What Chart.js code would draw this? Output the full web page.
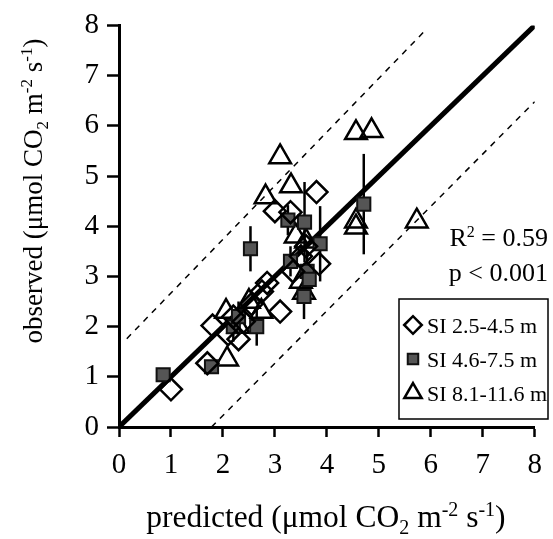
<!DOCTYPE html>
<html>
<head>
<meta charset="utf-8">
<script src="https://cdn.jsdelivr.net/npm/chart.js@4.4.1/dist/chart.umd.min.js"></script>
<style>
  html, body { margin: 0; padding: 0; background: #fff; }
  #wrap { width: 553px; height: 539px; }
</style>
</head>
<body>
<div id="wrap"><canvas id="chart" width="553" height="539"></canvas></div>
<script>
// SI 2.5-4.5 m (diamonds)
const diaX = [1.0, 1.7, 1.8, 2.1, 2.3, 2.4, 2.2, 2.85, 2.75, 3.1, 3.0, 3.35, 3.5, 3.85, 3.8, 3.3, 3.6, 2.55];
const diaY = [0.75, 1.27, 2.02, 1.85, 1.75, 2.1, 2.2, 2.87, 2.7, 2.3, 4.3, 3.1, 3.4, 3.25, 4.68, 4.28, 3.6, 2.45];

// SI 4.6-7.5 m (squares, with error bars)
const sqX   = [0.85, 1.78, 2.2, 2.3, 2.53, 2.65, 3.25, 3.57, 3.62, 3.56, 3.66, 3.87, 4.71, 3.3];
const sqY   = [1.04, 1.2, 2.0, 2.2, 3.55, 2.0, 4.12, 4.08, 3.1, 2.6, 2.94, 3.65, 4.44, 3.3];
const sqErr = [0.08, 0.12, 0.3, 0.3, 0.45, 0.38, 0.3, 0.8, 0.4, 0.45, 0.3, 0.75, 1.0, 0.3];

// SI 8.1-11.6 m (triangles)
const triX = [2.08, 2.06, 2.74, 2.82, 3.1, 3.31, 3.5, 3.56, 4.56, 4.56, 5.73, 4.56, 4.86, 3.4, 3.6, 2.5, 2.3];
const triY = [1.35, 2.3, 2.3, 4.58, 5.38, 4.8, 2.9, 2.68, 4.1, 3.98, 4.1, 5.86, 5.9, 3.8, 3.7, 2.5, 2.0];

// 1:1 line and the two dashed bounds
const fitX = [0, 8];
const fitY = [0, 8];
const upperX = [0.15, 5.93];
const upperY = [1.76, 7.94];
const lowerX = [1.78, 8];
const lowerY = [0, 6.48];

const axisTicks = [0, 1, 2, 3, 4, 5, 6, 7, 8];
const legendLabels = ["SI 2.5-4.5 m", "SI 4.6-7.5 m", "SI 8.1-11.6 m"];

const SERIF = "'Liberation Serif', 'Times New Roman', serif";

function pts(xs, ys) {
  return xs.map((x, i) => ({ x: x, y: ys[i] }));
}

// draws a run of text pieces with sub/superscripts at (x, baseline)
function richText(ctx, parts, x0, base, size, align) {
  const small = Math.round(size * 0.62);
  let total = 0;
  parts.forEach(p => {
    ctx.font = (p.sub || p.sup ? small : size) + "px " + SERIF;
    p.w = ctx.measureText(p.t).width;
    total += p.w;
  });
  let x = x0 - total / 2;
  if (align === "right") x = x0 - total;
  if (align === "left") x = x0;
  ctx.textBaseline = "alphabetic";
  ctx.textAlign = "left";
  parts.forEach(p => {
    ctx.font = (p.sub || p.sup ? small : size) + "px " + SERIF;
    let dy = 0;
    if (p.sub) dy = size * 0.22;
    if (p.sup) dy = -size * 0.36;
    ctx.fillText(p.t, x, base + dy);
    x += p.w;
  });
}

const unitParts = [
  { t: " (\u03bcmol CO" }, { t: "2", sub: true }, { t: " m" }, { t: "-2", sup: true },
  { t: " s" }, { t: "-1", sup: true }, { t: ")" }
];

const errorBars = {
  id: "errorBars",
  beforeDatasetsDraw(chart) {
    const ctx = chart.ctx;
    const xs = chart.scales.x, ys = chart.scales.y;
    ctx.save();
    ctx.strokeStyle = "#000";
    ctx.lineWidth = 2.5;
    sqX.forEach((x, i) => {
      const px = xs.getPixelForValue(x);
      ctx.beginPath();
      ctx.moveTo(px, ys.getPixelForValue(sqY[i] - sqErr[i]));
      ctx.lineTo(px, ys.getPixelForValue(sqY[i] + sqErr[i]));
      ctx.stroke();
    });
    ctx.restore();
  }
};

const annotations = {
  id: "annotations",
  afterDraw(chart) {
    const ctx = chart.ctx;
    const area = chart.chartArea;
    ctx.save();
    ctx.fillStyle = "#000";

    // axis titles
    richText(ctx, [{ t: "predicted" }].concat(unitParts), (area.left + area.right) / 2 - 1, 527, 31.5);
    ctx.save();
    ctx.translate(42, 191);
    ctx.rotate(-Math.PI / 2);
    richText(ctx, [{ t: "observed" }].concat(unitParts), 0, 0, 27);
    ctx.restore();

    // statistics
    richText(ctx, [{ t: "R" }, { t: "2", sup: true }, { t: " = 0.59" }], 548, 246, 26, "right");
    richText(ctx, [{ t: "p < 0.001" }], 548, 281, 26, "right");

    // legend box
    const bx = 399, by = 299, bw = 149, bh = 120;
    ctx.lineWidth = 1.5;
    ctx.strokeStyle = "#000";
    ctx.strokeRect(bx, by, bw, bh);
    chart.data.datasets.slice(0, 3).forEach((ds, i) => {
      const cy = by + 26 + i * 34;
      ctx.fillStyle = ds.backgroundColor;
      ctx.strokeStyle = ds.borderColor;
      ctx.lineWidth = ds.borderWidth;
      Chart.helpers.drawPoint(ctx, {
        pointStyle: ds.pointStyle,
        radius: ds.pointRadius * 0.8,
        borderWidth: ds.borderWidth,
        rotation: 0
      }, bx + 14, cy);
      ctx.fillStyle = "#000";
      richText(ctx, [{ t: legendLabels[i] }], bx + 28, cy + 8, 22, "left");
    });
    ctx.restore();
  }
};

const lineDs = (xs, ys, width, dash) => ({
  type: "line",
  data: pts(xs, ys),
  borderColor: "#000",
  borderWidth: width,
  borderDash: dash,
  pointRadius: 0,
  fill: false,
  showLine: true
});

new Chart(document.getElementById("chart"), {
  type: "scatter",
  data: {
    datasets: [
      {
        label: legendLabels[0],
        data: pts(diaX, diaY),
        pointStyle: "rectRot",
        pointRadius: 11,
        borderWidth: 2.5,
        borderColor: "#000",
        backgroundColor: "rgba(255,255,255,0)"
      },
      {
        label: legendLabels[1],
        data: pts(sqX, sqY),
        pointStyle: "rect",
        pointRadius: 9.3,
        borderWidth: 2,
        borderColor: "#111",
        backgroundColor: "#555"
      },
      {
        label: legendLabels[2],
        data: pts(triX, triY),
        pointStyle: "triangle",
        pointRadius: 12.5,
        borderWidth: 2.5,
        borderColor: "#000",
        backgroundColor: "rgba(255,255,255,0)"
      },
      lineDs(fitX, fitY, 5, []),
      lineDs(upperX, upperY, 1.5, [6, 6]),
      lineDs(lowerX, lowerY, 1.5, [6, 6])
    ]
  },
  options: {
    responsive: false,
    animation: false,
    layout: { padding: { left: 0, right: 10, top: 25, bottom: 0 } },
    plugins: {
      legend: { display: false },
      tooltip: { enabled: false }
    },
    scales: {
      x: {
        type: "linear",
        min: 0,
        max: 8,
        afterBuildTicks: s => { s.ticks = axisTicks.map(v => ({ value: v })); },
        afterFit: s => { s.height = 112; },
        grid: {
          drawOnChartArea: false,
          drawTicks: true,
          tickLength: 10,
          tickWidth: 2.5,
          tickColor: "#000"
        },
        border: { color: "#000", width: 3 },
        ticks: {
          color: "#000",
          padding: 11,
          maxRotation: 0,
          font: { family: SERIF, size: 29 }
        }
      },
      y: {
        type: "linear",
        min: 0,
        max: 8,
        afterBuildTicks: s => { s.ticks = axisTicks.map(v => ({ value: v })); },
        afterFit: s => { s.width = 119; },
        grid: {
          drawOnChartArea: false,
          drawTicks: true,
          tickLength: 12,
          tickWidth: 2.5,
          tickColor: "#000"
        },
        border: { color: "#000", width: 3 },
        ticks: {
          color: "#000",
          padding: 8,
          font: { family: SERIF, size: 29 }
        }
      }
    }
  },
  plugins: [errorBars, annotations]
});
</script>
</body>
</html>
